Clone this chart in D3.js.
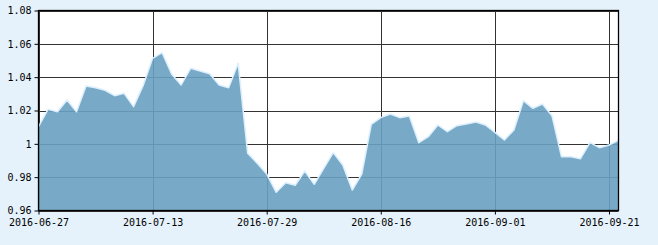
<!DOCTYPE html>
<html>
<head>
<meta charset="utf-8">
<script src="https://cdn.jsdelivr.net/npm/d3@7"></script>
<style>
  html, body { margin: 0; padding: 0; background: #e6f2fb; }
  svg { display: block; }
  .lbl { font-family: "DejaVu Sans Mono", "Liberation Mono", monospace; font-size: 10px; fill: #000; }
</style>
</head>
<body>
<div id="chart"></div>
<script>
// trading days (x categories)
const dates = [
  "2016-06-27","2016-06-28","2016-06-29","2016-06-30","2016-07-01","2016-07-04","2016-07-05","2016-07-06",
  "2016-07-07","2016-07-08","2016-07-11","2016-07-12","2016-07-13","2016-07-14","2016-07-15","2016-07-18",
  "2016-07-19","2016-07-20","2016-07-21","2016-07-22","2016-07-25","2016-07-26","2016-07-27","2016-07-28",
  "2016-07-29","2016-08-01","2016-08-02","2016-08-03","2016-08-04","2016-08-05","2016-08-08","2016-08-09",
  "2016-08-10","2016-08-11","2016-08-12","2016-08-15","2016-08-16","2016-08-17","2016-08-18","2016-08-19",
  "2016-08-22","2016-08-23","2016-08-24","2016-08-25","2016-08-26","2016-08-29","2016-08-30","2016-08-31",
  "2016-09-01","2016-09-02","2016-09-05","2016-09-06","2016-09-07","2016-09-08","2016-09-09","2016-09-12",
  "2016-09-13","2016-09-14","2016-09-19","2016-09-20","2016-09-21","2016-09-22"
];

// series values
const values = [
  1.0103, 1.0207, 1.0193, 1.0263, 1.0193, 1.0347, 1.0337, 1.0321,
  1.0289, 1.0303, 1.0223, 1.0349, 1.0513, 1.0547, 1.0419, 1.0353,
  1.0453, 1.0437, 1.0420, 1.0353, 1.0337, 1.0483, 0.9943, 0.9883,
  0.9819, 0.9709, 0.9767, 0.9751, 0.9837, 0.9757, 0.9853, 0.9947,
  0.9873, 0.9723, 0.9819, 1.0117, 1.0157, 1.0179, 1.0157, 1.0167,
  1.0007, 1.0043, 1.0113, 1.0073, 1.0109, 1.0119, 1.0131, 1.0113,
  1.0069, 1.0023, 1.0083, 1.0259, 1.0213, 1.0239, 1.0169, 0.9923,
  0.9923, 0.9911, 1.0007, 0.9977, 0.9993, 1.0021
];

// axis ticks
const yTicks = [0.96, 0.98, 1.00, 1.02, 1.04, 1.06, 1.08];
const xTickIdx = [0, 12, 24, 36, 48, 60];

const W = 658, H = 245;
const pLeft = 38.5, pRight = 618.5, pTop = 10.5, pBottom = 210.5;

const svg = d3.select('#chart').append('svg')
  .attr('width', W)
  .attr('height', H);

const x = d3.scaleLinear().domain([0, dates.length - 1]).range([pLeft, pRight]);
const y = d3.scaleLinear().domain([0.96, 1.08]).range([pBottom, pTop]);

// plot background
svg.append('rect')
  .attr('x', pLeft).attr('y', pTop)
  .attr('width', pRight - pLeft).attr('height', pBottom - pTop)
  .attr('fill', '#fff');

// grid
const grid = svg.append('g').attr('stroke', '#333').attr('stroke-width', 1);
grid.selectAll('line.h')
  .data(yTicks)
  .enter().append('line')
  .attr('x1', pLeft).attr('x2', pRight)
  .attr('y1', d => Math.round(y(d)) + 0.5)
  .attr('y2', d => Math.round(y(d)) + 0.5);
grid.selectAll('line.v')
  .data(xTickIdx)
  .enter().append('line')
  .attr('x1', d => Math.round(x(d)) + 0.5)
  .attr('x2', d => Math.round(x(d)) + 0.5)
  .attr('y1', pTop).attr('y2', pBottom);

// area
const area = d3.area()
  .x((d, i) => x(i))
  .y0(pBottom)
  .y1(d => y(d));
const line = d3.line()
  .x((d, i) => x(i))
  .y(d => y(d));

svg.append('path')
  .datum(values)
  .attr('d', area)
  .attr('fill', '#69a0c0')
  .attr('fill-opacity', 0.9);

svg.append('path')
  .datum(values)
  .attr('d', line)
  .attr('fill', 'none')
  .attr('stroke', '#dcefff')
  .attr('stroke-width', 1.5)
  .attr('stroke-linejoin', 'round');

// frame
svg.append('rect')
  .attr('x', pLeft).attr('y', pTop)
  .attr('width', pRight - pLeft).attr('height', pBottom - pTop)
  .attr('fill', 'none')
  .attr('stroke', '#000')
  .attr('stroke-width', 1.3);

// y axis
const yAxis = d3.axisLeft(y)
  .tickValues(yTicks)
  .tickSize(4)
  .tickPadding(3)
  .tickFormat(d => String(+d.toFixed(2)));
const gy = svg.append('g')
  .attr('transform', `translate(${pLeft},0)`)
  .call(yAxis);
gy.select('.domain').remove();
gy.selectAll('.tick line').attr('stroke', '#000');
gy.selectAll('.tick text').attr('class', 'lbl');
gy.attr('font-family', null).attr('font-size', null);

// x axis
const xAxis = d3.axisBottom(x)
  .tickValues(xTickIdx)
  .tickSize(4)
  .tickPadding(4)
  .tickFormat(i => dates[i]);
const gx = svg.append('g')
  .attr('transform', `translate(0,${pBottom})`)
  .call(xAxis);
gx.select('.domain').remove();
gx.selectAll('.tick line').attr('stroke', '#000');
gx.selectAll('.tick text').attr('class', 'lbl');
gx.attr('font-family', null).attr('font-size', null);
</script>
</body>
</html>
